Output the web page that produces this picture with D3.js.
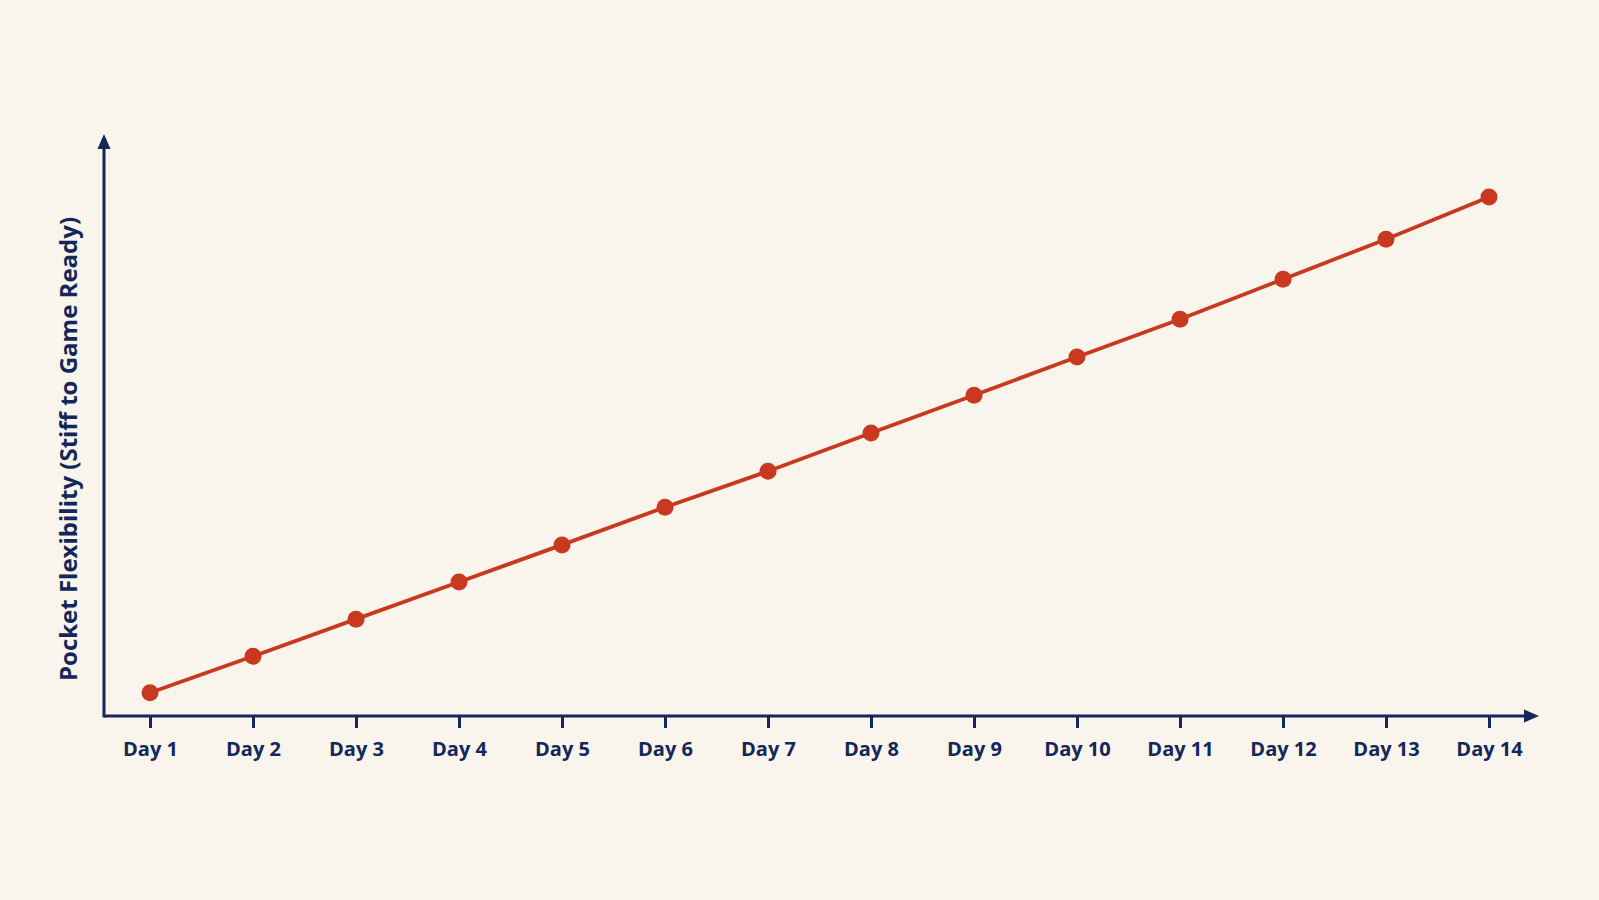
<!DOCTYPE html>
<html><head><meta charset="utf-8">
<script src="https://cdn.jsdelivr.net/npm/d3@7"></script>
<style>
html,body{margin:0;padding:0;background:#f9f5ec;}
svg{display:block;}
</style></head>
<body>
<svg id="chart" width="1599" height="900"></svg>
<script>
const days = ["Day 1","Day 2","Day 3","Day 4","Day 5","Day 6","Day 7","Day 8","Day 9","Day 10","Day 11","Day 12","Day 13","Day 14"];
const flexibility = [4.0,10.3,16.7,23.1,29.5,36.0,42.2,48.8,55.3,61.9,68.4,75.3,82.2,89.5];
const yLabel = "Pocket Flexibility (Stiff to Game Ready)";

const navy = "#13275a", red = "#c9391f";
const svg = d3.select("#chart");
svg.append("rect").attr("width",1599).attr("height",900).attr("fill","#f9f5ec");

const x = d3.scalePoint().domain(days).range([150,1489]);
const y = d3.scaleLinear().domain([0,100]).range([716,136]);
const x0 = 104;

// axes lines with arrowheads
svg.append("line").attr("x1",x0).attr("x2",1528).attr("y1",y(0)).attr("y2",y(0))
  .attr("stroke",navy).attr("stroke-width",3);
svg.append("path").attr("d",`M1539,${y(0)} L1524,${y(0)-6.5} L1524,${y(0)+6.5} Z`).attr("fill",navy);
svg.append("line").attr("x1",x0).attr("x2",x0).attr("y1",y(0)+1.5).attr("y2",y(100)+10)
  .attr("stroke",navy).attr("stroke-width",3);
svg.append("path").attr("d",`M${x0},${y(100)-2} L${x0-6.5},${y(100)+13} L${x0+6.5},${y(100)+13} Z`).attr("fill",navy);

// x axis ticks and labels
const ax = svg.append("g").attr("transform",`translate(0,${y(0)})`)
  .call(d3.axisBottom(x).tickSize(12).tickSizeOuter(0).tickPadding(14));
ax.select(".domain").remove();
ax.selectAll(".tick line").attr("stroke",navy).attr("stroke-width",3);
ax.selectAll(".tick text").attr("fill",navy).attr("font-family","'Open Sans', sans-serif")
  .attr("font-weight","700").attr("font-size",20);

// y label
svg.append("text").attr("transform",`translate(77,449) rotate(-90)`)
  .attr("text-anchor","middle").attr("fill",navy)
  .attr("font-family","'Open Sans', sans-serif").attr("font-weight","700").attr("font-size",24)
  .text(yLabel);

// line + points
const line = d3.line().x((d,i)=>x(days[i])).y(d=>y(d));
svg.append("path").datum(flexibility).attr("d",line).attr("fill","none")
  .attr("stroke",red).attr("stroke-width",3.8);
svg.selectAll("circle.pt").data(flexibility).join("circle").attr("class","pt")
  .attr("cx",(d,i)=>x(days[i])).attr("cy",d=>y(d)).attr("r",8.5).attr("fill",red);
</script>
</body></html>
